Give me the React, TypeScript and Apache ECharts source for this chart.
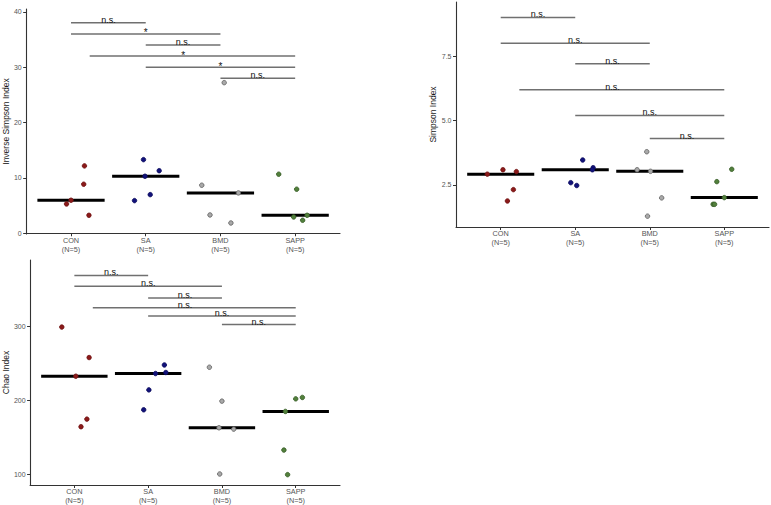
import React, { useEffect, useRef } from 'react';
import * as echarts from 'echarts';

// ---------- data ----------
const categories = ['CON', 'SA', 'BMD', 'SAPP'];
const sampleCounts = [5, 5, 5, 5];

const invSimpsonValues = [
  [5.3, 5.97, 12.17, 8.86, 3.25],
  [13.3, 10.3, 11.3, 6.98, 5.9],
  [8.68, 7.29, 3.31, 1.86, 27.2],
  [10.67, 7.96, 2.95, 2.35, 3.25],
];
const invSimpsonJitter = [
  [-0.06, 0.0, 0.18, 0.17, 0.24],
  [-0.03, -0.01, 0.18, 0.06, -0.15],
  [-0.25, 0.24, -0.14, 0.14, 0.05],
  [-0.22, 0.02, -0.02, 0.1, 0.16],
];
const invSimpsonTicks = [0, 10, 20, 30, 40];
const invSimpsonSigY = [38, 36, 34, 32, 30, 28];
const invSimpsonSigLabels = ['n.s.', '*', 'n.s.', '*', '*', 'n.s.'];

const simpsonValues = [
  [2.92, 3.09, 3.02, 2.32, 1.88],
  [3.47, 3.17, 3.09, 2.59, 2.48],
  [3.79, 3.09, 3.03, 2.0, 1.29],
  [3.11, 2.63, 2.01, 1.75, 1.75],
];
const simpsonJitter = [
  [-0.18, 0.03, 0.21, 0.17, 0.09],
  [0.1, 0.24, 0.23, -0.06, 0.02],
  [-0.04, -0.17, 0.01, 0.16, -0.03],
  [0.1, -0.1, 0.0, -0.15, -0.13],
];
const simpsonTicks = [2.5, 5.0, 7.5];
const simpsonSigY = [9.0, 8.0, 7.2, 6.2, 5.2, 4.3];
const simpsonSigLabels = ['n.s.', 'n.s.', 'n.s.', 'n.s.', 'n.s.', 'n.s.'];

const chaoValues = [
  [298.9, 257.7, 232.5, 174.5, 164.2],
  [247.7, 237.5, 236.1, 214.0, 187.1],
  [244.6, 198.8, 162.8, 161.0, 100.4],
  [201.9, 203.8, 184.9, 132.7, 99.5],
];
const chaoJitter = [
  [-0.17, 0.2, 0.02, 0.17, 0.09],
  [0.22, 0.24, 0.1, 0.01, -0.06],
  [-0.17, 0.0, -0.04, 0.16, -0.03],
  [0.0, 0.09, -0.14, -0.16, -0.11],
];
const chaoTicks = [100, 200, 300];
const chaoSigY = [368.6, 354.2, 338, 325, 313.8, 302.2];
const chaoSigLabels = ['n.s.', 'n.s.', 'n.s.', 'n.s.', 'n.s.', 'n.s.'];

// comparisons (group positions, 1-based)
const compGroupA = [1, 1, 2, 1, 2, 3];
const compGroupB = [2, 3, 3, 4, 4, 4];
const compStartShift = [0, 0, 0, 0.25, 0, 0];

// ---------- styles ----------
const groupFill = ['#8b1a1a', '#12127a', '#a9a9a9', '#52803c'];
const groupBorder = ['#6e1212', '#0b0b5c', '#5f5f5f', '#365a26'];
const FONT = 'Liberation Sans, Arial, sans-serif';

function median(arr: number[]) {
  const s = [...arr].sort((a, b) => a - b);
  const m = Math.floor(s.length / 2);
  return s.length % 2 ? s[m] : (s[m - 1] + s[m]) / 2;
}

const panels = [
  {
    name: 'Inverse Simpson Index', values: invSimpsonValues, jitter: invSimpsonJitter,
    ticks: invSimpsonTicks, sigY: invSimpsonSigY, sigLabels: invSimpsonSigLabels,
    grid: { left: 24, top: 9, width: 316, height: 225 }, min: -0.13, max: 40.5, dec: 0,
  },
  {
    name: 'Simpson Index', values: simpsonValues, jitter: simpsonJitter,
    ticks: simpsonTicks, sigY: simpsonSigY, sigLabels: simpsonSigLabels,
    grid: { left: 456, top: 2, width: 313, height: 225 }, min: 0.87, max: 9.6, dec: 1,
  },
  {
    name: 'Chao Index', values: chaoValues, jitter: chaoJitter,
    ticks: chaoTicks, sigY: chaoSigY, sigLabels: chaoSigLabels,
    grid: { left: 28, top: 260, width: 312, height: 225 }, min: 85.5, max: 389.5, dec: 0,
  },
];

function buildOption() {
  const grid: any[] = [];
  const xAxis: any[] = [];
  const yAxis: any[] = [];
  const series: any[] = [];

  panels.forEach((p, pi) => {
    grid.push({ ...p.grid, containLabel: false });
    xAxis.push({
      type: 'value', gridIndex: pi, min: 0.4, max: 4.6,
      axisLine: { show: true, lineStyle: { color: '#333', width: 1.1 } },
      axisTick: { show: true, length: 3, customValues: [1, 2, 3, 4], lineStyle: { color: '#333' } },
      axisLabel: {
        customValues: [1, 2, 3, 4], margin: 2.5, color: '#555', fontSize: 7.3, lineHeight: 8.5,
        fontFamily: FONT,
        formatter: (v: number) => {
          const i = Math.round(v) - 1;
          return `${categories[i]}\n(N=${sampleCounts[i]})`;
        },
      },
      splitLine: { show: false },
    });
    yAxis.push({
      type: 'value', gridIndex: pi, min: p.min, max: p.max,
      name: p.name, nameLocation: 'middle', nameRotate: 90, nameGap: 14,
      nameTextStyle: { fontSize: 8.5, color: '#1a1a1a', fontFamily: FONT },
      axisLine: { show: true, lineStyle: { color: '#333', width: 1.1 } },
      axisTick: { show: true, length: 3, customValues: p.ticks, lineStyle: { color: '#333' } },
      axisLabel: {
        customValues: p.ticks, margin: 4.5, color: '#555', fontSize: 7, fontFamily: FONT,
        formatter: (v: number) => v.toFixed(p.dec),
      },
      splitLine: { show: false },
    });

    // crossbar (median)
    series.push({
      type: 'custom', xAxisIndex: pi, yAxisIndex: pi, z: 2, silent: true,
      data: p.values.map((vals, gi) => [gi + 1, median(vals)]),
      renderItem: (params: any, api: any) => {
        const x = api.value(0);
        const y = api.value(1);
        const a = api.coord([x - 0.45, y]);
        const b = api.coord([x + 0.45, y]);
        return {
          type: 'line',
          shape: { x1: a[0], y1: a[1], x2: b[0], y2: b[1] },
          style: { stroke: '#000', lineWidth: 3 },
        };
      },
    });

    // points
    p.values.forEach((vals, gi) => {
      series.push({
        type: 'scatter', xAxisIndex: pi, yAxisIndex: pi, z: 3, silent: true,
        symbol: 'circle', symbolSize: 4.5,
        itemStyle: { color: groupFill[gi], borderColor: groupBorder[gi], borderWidth: 0.8, opacity: 1 },
        data: vals.map((v, k) => [gi + 1 + p.jitter[gi][k], v]),
      });
    });

    // significance bars
    series.push({
      type: 'custom', xAxisIndex: pi, yAxisIndex: pi, z: 2, silent: true,
      data: p.sigY.map((y, k) => [compGroupA[k] + compStartShift[k], compGroupB[k], y, (compGroupA[k] + compGroupB[k]) / 2]),
      renderItem: (params: any, api: any) => {
        const k = params.dataIndex;
        const a = api.coord([api.value(0), api.value(2)]);
        const b = api.coord([api.value(1), api.value(2)]);
        const l = api.coord([api.value(3), api.value(2)]);
        const lab = p.sigLabels[k];
        const star = lab === '*';
        return {
          type: 'group',
          children: [
            {
              type: 'line',
              shape: { x1: a[0], y1: a[1], x2: b[0], y2: b[1] },
              style: { stroke: '#707070', lineWidth: 1.5 },
            },
            {
              type: 'text',
              x: l[0], y: l[1] + (star ? 4 : 1.5),
              style: {
                text: lab, align: 'center', verticalAlign: 'bottom',
                fontSize: star ? 10 : 9, fill: '#111', fontFamily: FONT,
              },
            },
          ],
        };
      },
    });
  });

  return {
    animation: false,
    backgroundColor: '#fff',
    textStyle: { fontFamily: FONT },
    grid, xAxis, yAxis, series,
  };
}

export default function App() {
  const ref = useRef<HTMLDivElement>(null);
  useEffect(() => {
    const chart = echarts.init(ref.current!, null, { renderer: 'svg' });
    chart.setOption(buildOption() as any);
    return () => chart.dispose();
  }, []);
  return (
    <div
      ref={ref}
      style={{ position: 'fixed', left: 0, top: 0, width: 771, height: 505, background: '#fff' }}
    />
  );
}
